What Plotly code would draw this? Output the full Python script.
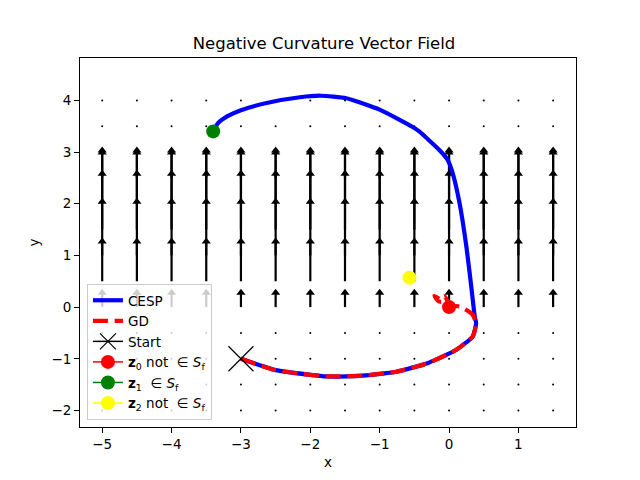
import plotly.graph_objects as go

# ---- data ----
grid_x = [-5.0, -4.5, -4.0, -3.5, -3.0, -2.5, -2.0, -1.5, -1.0, -0.5, 0.0, 0.5, 1.0, 1.5]
grid_y = [-2.0, -1.5, -1.0, -0.5, 0.0, 0.5, 1.0, 1.5, 2.0, 2.5, 3.0, 3.5, 4.0]
v_by_row = [0, 0, 0, 0, 0.35, 0.84, 1.11, 1.15, 1.06, 0.60, 0, 0, 0]

cesp_x = [-3.0, -2.5, -2.0, -1.77, -1.3, -0.76, -0.3, 0.10, 0.34, 0.39, 0.37, 0.32, 0.25, 0.15, 0.05,
          -0.02, -0.14, -0.43, -0.53, -1.0, -1.48, -1.85, -2.15, -2.63, -3.0, -3.2, -3.33, -3.4]
cesp_y = [-1.0, -1.22, -1.31, -1.34, -1.33, -1.25, -1.08, -0.83, -0.57, -0.31, -0.18, 0.40, 1.17, 2.02, 2.60,
          2.85, 3.04, 3.40, 3.49, 3.82, 4.04, 4.09, 4.06, 3.95, 3.81, 3.69, 3.56, 3.40]

gd_x = [-3.0, -2.5, -2.0, -1.77, -1.3, -0.76, -0.3, 0.10, 0.34, 0.39, 0.34, 0.27, 0.15, 0.06,
        -0.05, -0.13, -0.21, -0.16, -0.11, -0.07, -0.03, 0.0]
gd_y = [-1.0, -1.22, -1.31, -1.34, -1.33, -1.25, -1.08, -0.83, -0.57, -0.31, -0.15, -0.07, 0.01, 0.03,
        0.08, 0.15, 0.22, 0.12, 0.10, 0.21, 0.14, 0.0]

start_pt = (-3.0, -1.0)
z0 = (0.0, 0.0)
z1 = (-3.4, 3.4)
z2 = (-0.57, 0.57)

# ---- figure ----
fig = go.Figure()

dot_x, dot_y = [], []
shaft_x, shaft_y = [], []
head_x, head_y = [], []
head_off = 0.07
for yy, v in zip(grid_y, v_by_row):
    for xx in grid_x:
        if v == 0:
            dot_x.append(xx)
            dot_y.append(yy)
        else:
            shaft_x += [xx, xx, None]
            shaft_y += [yy, yy + v - head_off, None]
            head_x.append(xx)
            head_y.append(yy + v - head_off)

fig.add_trace(go.Scatter(x=dot_x, y=dot_y, mode="markers", showlegend=False,
                         marker=dict(color="black", size=2), hoverinfo="skip"))
fig.add_trace(go.Scatter(x=shaft_x, y=shaft_y, mode="lines", showlegend=False,
                         line=dict(color="black", width=2.2), hoverinfo="skip"))
fig.add_trace(go.Scatter(x=head_x, y=head_y, mode="markers", showlegend=False,
                         marker=dict(color="black", symbol="triangle-up", size=8,
                                     line=dict(width=0)), hoverinfo="skip"))

fig.add_trace(go.Scatter(x=cesp_x, y=cesp_y, mode="lines", name="CESP",
                         line=dict(color="blue", width=4.2, shape="spline", smoothing=0.5)))
fig.add_trace(go.Scatter(x=gd_x, y=gd_y, mode="lines", name="GD",
                         line=dict(color="red", width=4.2, dash="15px,6.7px", shape="spline", smoothing=0.5)))
fig.add_trace(go.Scatter(x=[start_pt[0]], y=[start_pt[1]], mode="lines+markers", name="Start",
                         line=dict(color="black", width=1.5),
                         marker=dict(symbol="x-thin", size=25, color="black",
                                     line=dict(color="black", width=1.2))))
labels = ["<b>z</b><sub>0</sub> not  ∈ <i>S</i><sub>f</sub>",
          "<b>z</b><sub>1</sub>  ∈ <i>S</i><sub>f</sub>",
          "<b>z</b><sub>2</sub> not  ∈ <i>S</i><sub>f</sub>"]
for pt, col, lab in zip([z0, z1, z2], ["red", "green", "yellow"], labels):
    fig.add_trace(go.Scatter(x=[pt[0]], y=[pt[1]], mode="lines+markers", name=lab,
                             line=dict(color=col, width=1.5),
                             marker=dict(color=col, size=14)))

axis_common = dict(showgrid=False, zeroline=False, showline=True, linecolor="black",
                   linewidth=1, mirror=True, ticks="outside", ticklen=5, tickcolor="black",
                   tickfont=dict(size=13.5, color="black"))
fig.update_xaxes(range=[-5.32, 1.83], tickvals=[-5, -4, -3, -2, -1, 0, 1],
                 title=dict(text="x", font=dict(size=13.5, color="black"), standoff=6), **axis_common)
fig.update_yaxes(range=[-2.32, 4.82], tickvals=[-2, -1, 0, 1, 2, 3, 4],
                 title=dict(text="y", font=dict(size=13.5, color="black"), standoff=8), **axis_common)

fig.update_layout(
    width=632, height=472,
    margin=dict(l=72, r=64, t=50, b=53),
    paper_bgcolor="white", plot_bgcolor="white",
    font=dict(family="DejaVu Sans", color="black"),
    title=dict(text="Negative Curvature Vector Field", x=0.5, xanchor="center",
               y=0.926, yanchor="middle", font=dict(size=16.5, color="black")),
    legend=dict(x=0.014, y=0.019, xanchor="left", yanchor="bottom",
                bgcolor="rgba(255,255,255,0.8)", bordercolor="#cccccc", borderwidth=1,
                font=dict(size=13.5, color="black"), tracegroupgap=0),
    showlegend=True,
)

fig.write_html("out.html")
